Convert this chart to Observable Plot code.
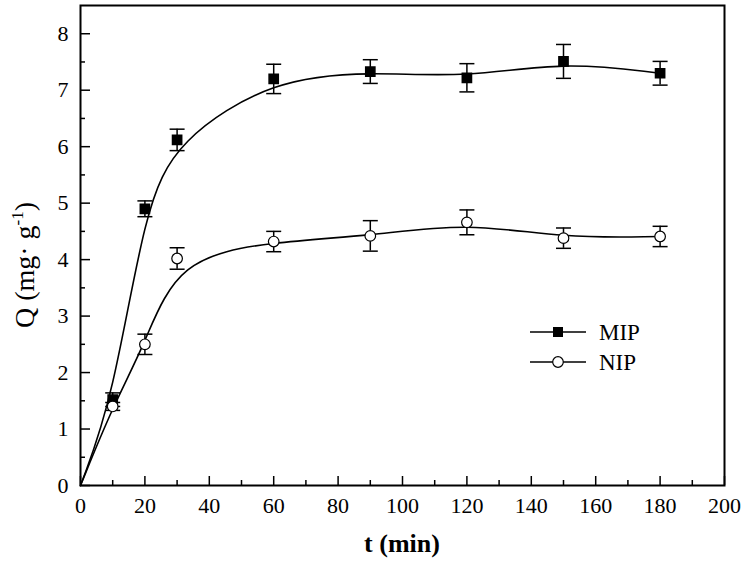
<!DOCTYPE html>
<html><head><meta charset="utf-8">
<script src="https://cdn.jsdelivr.net/npm/d3@7"></script>
<script src="https://cdn.jsdelivr.net/npm/@observablehq/plot@0.6"></script>
<style>body{margin:0;background:#fff} #wrap{position:relative;width:747px;height:562px}</style>
</head><body><div id="wrap"></div>
<script>
const time = [0, 10, 20, 30, 60, 90, 120, 150, 180];
const mipQ = [0, 1.52, 4.9, 6.12, 7.2, 7.33, 7.22, 7.51, 7.3];
const mipErr = [0, 0.12, 0.14, 0.19, 0.26, 0.21, 0.25, 0.3, 0.21];
const nipQ = [0, 1.4, 2.5, 4.02, 4.32, 4.42, 4.66, 4.38, 4.41];
const nipErr = [0, 0.07, 0.18, 0.19, 0.18, 0.27, 0.22, 0.18, 0.18];
const xTicks = [0, 20, 40, 60, 80, 100, 120, 140, 160, 180, 200];
const xMinor = [10, 30, 50, 70, 90, 110, 130, 150, 170, 190];
const yTicks = [0, 1, 2, 3, 4, 5, 6, 7, 8];
const yMinor = [0.5, 1.5, 2.5, 3.5, 4.5, 5.5, 6.5, 7.5];
const seriesNames = ["MIP", "NIP"];
const xTitle = "t (min)";

const mip = time.map((t, i) => ({t, q: mipQ[i], lo: mipQ[i] - mipErr[i], hi: mipQ[i] + mipErr[i]}));
const nip = time.map((t, i) => ({t, q: nipQ[i], lo: nipQ[i] - nipErr[i], hi: nipQ[i] + nipErr[i]}));
const mipPts = mip.filter(d => d.t > 0);
const nipPts = nip.filter(d => d.t > 0);

const W = 747, H = 562, mL = 80, mR = 23, mT = 5, mB = 77;
const pw = W - mL - mR, ph = H - mT - mB;
const cap = {draw(ctx) { ctx.moveTo(-7.5, 0); ctx.lineTo(7.5, 0); }};
const font = "Liberation Serif, Times New Roman, serif";

const chart = Plot.plot({
  width: W, height: H,
  marginLeft: mL, marginRight: mR, marginTop: mT, marginBottom: mB,
  style: {fontFamily: font, background: "white", color: "black"},
  x: {domain: [0, 200], label: null},
  y: {domain: [0, 8.5], label: null},
  marks: [
    Plot.axisX(xTicks, {tickSize: 0, tickPadding: 12, fontSize: 22, fontFamily: font, tickFormat: d => d}),
    Plot.axisY(yTicks, {tickSize: 0, tickPadding: 12, fontSize: 22, fontFamily: font, tickFormat: d => d}),
    Plot.tickX(xTicks, {x: d => d, insetTop: ph - 9, stroke: "black", strokeWidth: 1.5}),
    Plot.tickX(xMinor, {x: d => d, insetTop: ph - 5, stroke: "black", strokeWidth: 1.5}),
    Plot.tickY(yTicks, {y: d => d, insetRight: pw - 10, stroke: "black", strokeWidth: 1.5}),
    Plot.tickY(yMinor, {y: d => d, insetRight: pw - 5, stroke: "black", strokeWidth: 1.5}),
    Plot.line(mip, {x: "t", y: "q", curve: "basis", stroke: "black", strokeWidth: 1.6}),
    Plot.line(nip, {x: "t", y: "q", curve: "basis", stroke: "black", strokeWidth: 1.6}),
    Plot.ruleX(mipPts, {x: "t", y1: "lo", y2: "hi", stroke: "black", strokeWidth: 1.5}),
    Plot.ruleX(nipPts, {x: "t", y1: "lo", y2: "hi", stroke: "black", strokeWidth: 1.5}),
    Plot.dot(mipPts, {x: "t", y: "lo", symbol: cap, stroke: "black", strokeWidth: 1.5, r: 3}),
    Plot.dot(mipPts, {x: "t", y: "hi", symbol: cap, stroke: "black", strokeWidth: 1.5, r: 3}),
    Plot.dot(nipPts, {x: "t", y: "lo", symbol: cap, stroke: "black", strokeWidth: 1.5, r: 3}),
    Plot.dot(nipPts, {x: "t", y: "hi", symbol: cap, stroke: "black", strokeWidth: 1.5, r: 3}),
    Plot.dot(mipPts, {x: "t", y: "q", symbol: "square", fill: "black", stroke: "black", r: 5.2}),
    Plot.dot(nipPts, {x: "t", y: "q", symbol: "circle", fill: "white", stroke: "black", strokeWidth: 1.2, r: 5.3}),
    Plot.frame({stroke: "black", strokeWidth: 2})
  ]
});
document.getElementById("wrap").appendChild(chart);

const svg = d3.select(chart);
svg.append("text")
  .attr("x", mL + pw / 2).attr("y", 552).attr("text-anchor", "middle")
  .style("font-family", font).attr("font-size", 26).attr("font-weight", "bold").attr("fill", "black")
  .text(xTitle);

const yt = svg.append("text")
  .attr("transform", `translate(34,265) rotate(-90)`)
  .attr("text-anchor", "middle")
  .style("font-family", font).attr("font-size", 28).attr("fill", "black");
yt.append("tspan").text("Q (mg· g");
yt.append("tspan").attr("dy", -11).attr("font-size", 17).text("-1");
yt.append("tspan").attr("dy", 11).text(")");

const lg = svg.append("g").style("font-family", font).attr("font-size", 23).attr("fill", "black");
seriesNames.forEach((name, i) => {
  const y = 332 + i * 30;
  lg.append("line").attr("x1", 530).attr("x2", 586).attr("y1", y).attr("y2", y).attr("stroke", "black").attr("stroke-width", 1.5);
  if (i === 0) lg.append("rect").attr("x", 553).attr("y", y - 5).attr("width", 10).attr("height", 10).attr("fill", "black");
  else lg.append("circle").attr("cx", 558).attr("cy", y).attr("r", 5.3).attr("fill", "white").attr("stroke", "black").attr("stroke-width", 1.2);
  lg.append("text").attr("x", 599).attr("y", y).attr("dy", "0.35em").attr("text-anchor", "start").text(name);
});
</script></body></html>
